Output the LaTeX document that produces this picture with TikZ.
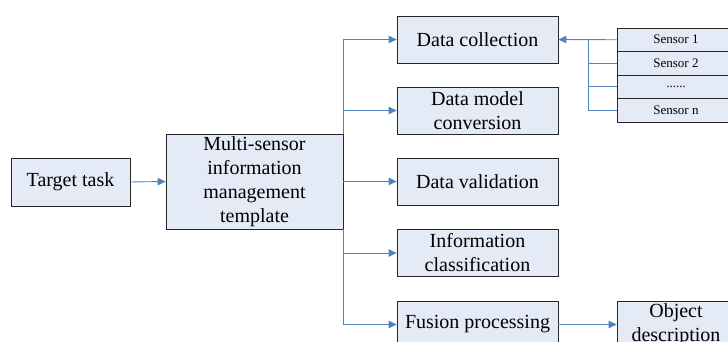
\documentclass[tikz,border=0pt]{standalone}
\usepackage{fontspec}
\setmainfont{Liberation Serif}
\usetikzlibrary{arrows.meta}
\definecolor{boxfill}{HTML}{E4EBF6}
\definecolor{linkblue}{HTML}{4F81BD}
\tikzset{
  box/.style={draw=black!85, line width=0.8pt, fill=boxfill, inner sep=0pt, align=center,
    font=\fontsize{20}{24}\selectfont},
  sensorbox/.style={box, minimum width=118pt, minimum height=23.5pt, font=\fontsize{13}{15}\selectfont},
  conn/.style={draw=linkblue, line width=0.9pt},
  arr/.style={conn, -{Triangle[length=8pt,width=7.5pt]}},
}
\begin{document}
\begin{tikzpicture}[x=1pt,y=-1pt]
\useasboundingbox (0,0) rectangle (728,342);
\clip (0,0) rectangle (728,342);
\node[box, minimum width=119pt, minimum height=48pt] (target) at (70.5,182) {Target task};
\node[box, minimum width=177pt, minimum height=95pt] (multi) at (254.5,181.5) {Multi-sensor\\information\\management\\template};
\node[box, minimum width=161pt, minimum height=47pt] (dc) at (477.5,39.5) {Data collection};
\node[box, minimum width=161pt, minimum height=47pt] (dm) at (477.5,110.5) {Data model\\conversion};
\node[box, minimum width=161pt, minimum height=47pt] (dv) at (477.5,181.5) {Data validation};
\node[box, minimum width=161pt, minimum height=47pt] (ic) at (477.5,253) {Information\\classification};
\node[box, minimum width=161pt, minimum height=47pt] (fp) at (477.5,324.5) {Fusion processing};
\node[box, minimum width=118pt, minimum height=47pt] (od) at (676,324.5) {Object\\description};
\node[sensorbox] (s1) at (676,39.75) {Sensor 1};
\node[sensorbox] (s2) at (676,63.25) {Sensor 2};
\node[sensorbox] (s3) at (676,86.75) {......};
\node[sensorbox] (sn) at (676,110.25) {Sensor n};
\coordinate (bus) at (588,0);
% connectors
\draw[arr] (target.east) -- (multi.west);
\draw[arr] (multi.north east) |- (dc.west);
\draw[arr] (multi.east |- dm.west) -- (dm.west);
\draw[arr] (multi.east |- dv.west) -- (dv.west);
\draw[arr] (multi.east |- ic.west) -- (ic.west);
\draw[arr] (multi.south east) |- (fp.west);
\draw[arr] (fp.east) -- (od.west);
\draw[arr] (s1.west) -- (dc.east);
\draw[conn] (bus |- s1.west) -- (bus |- sn.west);
\draw[conn] (s2.west) -- (bus |- s2.west);
\draw[conn] (s3.west) -- (bus |- s3.west);
\draw[conn] (sn.west) -- (bus |- sn.west);
\end{tikzpicture}
\end{document}
